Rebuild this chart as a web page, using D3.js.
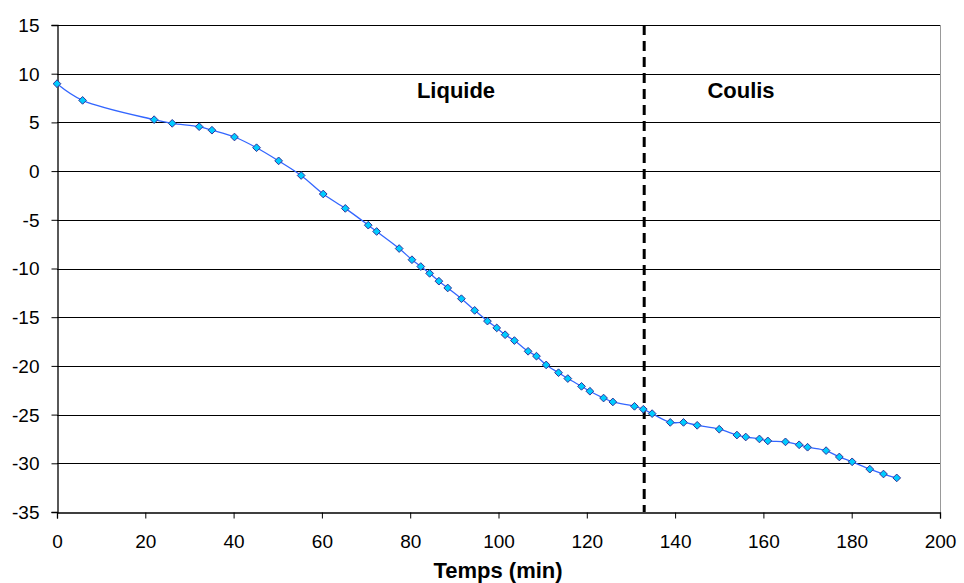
<!DOCTYPE html>
<html><head><meta charset="utf-8">
<script src="https://cdn.jsdelivr.net/npm/d3@7"></script>
<style>body{margin:0;background:#fff}svg{display:block}text{font-family:"Liberation Sans",Arial,sans-serif}</style>
</head><body>
<svg id="chart" width="964" height="583"></svg>
<script>
const times = [0,5.8,22,26.1,32.2,35.1,40.2,45.2,50.2,55.3,60.3,65.3,70.5,72.4,77.5,80.4,82.4,84.4,86.5,88.5,91.6,94.6,97.5,99.6,101.5,103.6,106.7,108.6,110.8,113.6,115.7,118.8,120.7,123.8,125.9,130.8,132.8,134.8,138.9,141.9,145,150,154,156,159.1,161,165,168.1,170,174.2,177.2,180.1,184.1,187.2,190.2];
const temps = [8.97,7.26,5.28,4.9,4.56,4.2,3.5,2.4,1.05,-0.45,-2.35,-3.83,-5.55,-6.2,-7.95,-9.1,-9.8,-10.5,-11.3,-12.0,-13.1,-14.3,-15.4,-16.1,-16.8,-17.4,-18.5,-19.0,-19.9,-20.7,-21.3,-22.1,-22.6,-23.3,-23.7,-24.15,-24.45,-24.9,-25.8,-25.8,-26.1,-26.5,-27.1,-27.3,-27.5,-27.7,-27.8,-28.1,-28.35,-28.7,-29.35,-29.85,-30.6,-31.1,-31.5];
const xTicks = [0,20,40,60,80,100,120,140,160,180,200];
const yTicks = [15,10,5,0,-5,-10,-15,-20,-25,-30,-35];
const phaseBoundary = 133;
const phaseLabels = ["Liquide", "Coulis"];
const xTitle = "Temps (min)";

const svg = d3.select("#chart");
const L = 57, T = 25, R = 940, B = 512;
const x = d3.scaleLinear().domain([0,200]).range([L,R]);
const y = d3.scaleLinear().domain([-35,15]).range([B,T]);
const fmt = d => String(d);

// gridlines
svg.append("g").selectAll("line").data(yTicks.filter(d=>d!==-35)).join("line")
  .attr("x1",L).attr("x2",R)
  .attr("y1",d=>Math.round(y(d))+0.5).attr("y2",d=>Math.round(y(d))+0.5)
  .attr("stroke","#000").attr("stroke-width",1);
// right border
svg.append("line").attr("x1",R+0.5).attr("x2",R+0.5).attr("y1",T).attr("y2",B)
  .attr("stroke","#999").attr("stroke-width",1);

// axes
const yAxis = svg.append("g").attr("transform",`translate(${L+0.5},0)`)
  .call(d3.axisLeft(y).tickValues(yTicks).tickSize(6).tickPadding(12).tickFormat(fmt));
const xAxis = svg.append("g").attr("transform",`translate(0,${B+0.5})`)
  .call(d3.axisBottom(x).tickValues(xTicks).tickSize(6).tickPadding(16).tickFormat(fmt));
[yAxis,xAxis].forEach(g=>{
  g.select(".domain").attr("stroke","#000").attr("stroke-width",1.3);
  g.selectAll(".tick line").attr("stroke","#000");
  g.selectAll(".tick text").attr("font-size",19).attr("fill","#000")
   .style("font-family",'"Liberation Sans",Arial,sans-serif');
});
yAxis.selectAll(".tick text").attr("dy","0.34em");

// dashed boundary
svg.append("line").attr("x1",x(phaseBoundary)).attr("x2",x(phaseBoundary))
  .attr("y1",T).attr("y2",B).attr("stroke","#000").attr("stroke-width",3)
  .attr("stroke-dasharray","10,6");

// phase labels
svg.append("g").selectAll("text").data(phaseLabels).join("text")
  .attr("x",(d,i)=> i===0 ? 456 : 741).attr("y",98)
  .attr("text-anchor","middle").attr("font-size",22).attr("font-weight","bold")
  .text(d=>d);

// line
const data = times.map((t,i)=>({t, v:temps[i]}));
svg.append("path").datum(data)
  .attr("fill","none").attr("stroke","#3366ff").attr("stroke-width",1.3)
  .attr("d", d3.line().x(d=>x(d.t)).y(d=>y(d.v)).curve(d3.curveCatmullRom.alpha(0.5)));

// markers
svg.append("g").selectAll("path").data(data).join("path")
  .attr("transform",d=>`translate(${x(d.t)},${y(d.v)})`)
  .attr("d", d3.symbol(d3.symbolDiamond2, 38)())
  .attr("fill","#00ccff").attr("stroke","#333399").attr("stroke-width",1);

// x title
svg.append("text").attr("x",498).attr("y",578).attr("text-anchor","middle")
  .attr("font-size",22).attr("font-weight","bold").text(xTitle);
</script>
</body></html>
